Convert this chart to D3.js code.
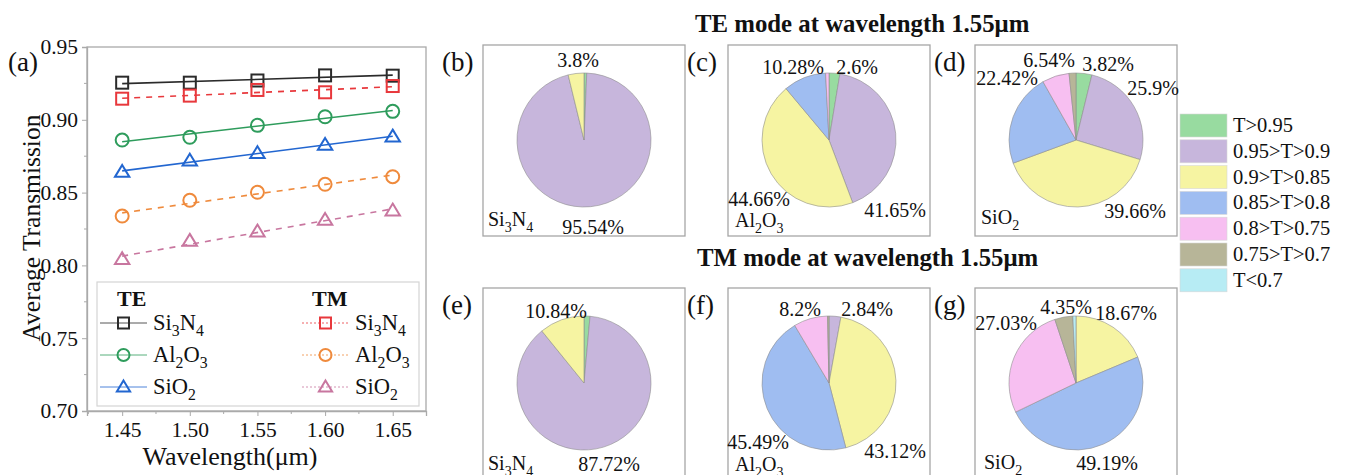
<!DOCTYPE html>
<html>
<head>
<meta charset="utf-8">
<script src="https://cdn.jsdelivr.net/npm/d3@7"></script>
<style>
  body { margin: 0; background: #fff; }
  text { font-family: "Liberation Serif", "Times New Roman", Tinos, "DejaVu Serif", serif; fill: #111; }
</style>
</head>
<body>
<svg id="chart" width="1347" height="475"></svg>
<script>
// ---- line chart data (a) ----
const wavelengths = [1.45, 1.50, 1.55, 1.60, 1.65];
const teSi3N4 = [0.9255, 0.9255, 0.927, 0.9305, 0.9303];
const teAl2O3 = [0.8861, 0.888, 0.8962, 0.9021, 0.9058];
const teSiO2 = [0.8641, 0.8719, 0.877, 0.8827, 0.8884];
const tmSi3N4 = [0.9145, 0.9166, 0.9205, 0.9189, 0.9232];
const tmAl2O3 = [0.8339, 0.8447, 0.8502, 0.8557, 0.8609];
const tmSiO2 = [0.8042, 0.8168, 0.8232, 0.8312, 0.8376];
const yTicks = [0.70, 0.75, 0.80, 0.85, 0.90, 0.95];
const xTicks = [1.45, 1.50, 1.55, 1.60, 1.65];
const materials = ["Si_3N_4", "Al_2O_3", "SiO_2"];

// ---- pie data (b)-(g), percent per transmission range, clockwise from top ----
const ranges = ["T>0.95", "0.95>T>0.9", "0.9>T>0.85", "0.85>T>0.8", "0.8>T>0.75", "0.75>T>0.7", "T<0.7"];
const pieTeSi3N4 = [0.66, 95.54, 3.8, 0, 0, 0, 0];
const pieTeAl2O3 = [2.6, 41.65, 44.66, 10.28, 0.81, 0, 0];
const pieTeSiO2 = [3.82, 25.9, 39.66, 22.42, 6.54, 1.66, 0];
const pieTmSi3N4 = [1.44, 87.72, 10.84, 0, 0, 0, 0];
const pieTmAl2O3 = [0, 2.84, 43.12, 45.49, 8.2, 0.35, 0];
const pieTmSiO2 = [0, 0, 18.67, 49.19, 27.03, 4.35, 0.76];

const svg = d3.select("#chart");

function subText(el, str, fs) {
  let shifted = false;
  str.split(/(_\d)/).filter(s => s).forEach(p => {
    const sub = p[0] === "_";
    const t = el.append("tspan").text(sub ? p.slice(1) : p);
    if (sub) { t.attr("font-size", fs * 0.7).attr("dy", fs * 0.28); shifted = true; }
    else if (shifted) { t.attr("dy", -fs * 0.28); shifted = false; }
  });
}

// ================= (a) line chart =================
const plot = { left: 87, right: 426, top: 47, bottom: 411 };
const x = d3.scaleLinear().domain([1.424, 1.6746]).range([plot.left, plot.right]);
const y = d3.scaleLinear().domain([0.70, 0.95]).range([plot.bottom, plot.top]);

const series = [
  { mode: "TE", name: materials[0], values: teSi3N4, color: "#2b2b2b", shape: "square", dash: null },
  { mode: "TE", name: materials[1], values: teAl2O3, color: "#2e9c5c", shape: "circle", dash: null },
  { mode: "TE", name: materials[2], values: teSiO2, color: "#2266d0", shape: "triangle", dash: null },
  { mode: "TM", name: materials[0], values: tmSi3N4, color: "#e8383c", shape: "square", dash: "6,6" },
  { mode: "TM", name: materials[1], values: tmAl2O3, color: "#ef8a3c", shape: "circle", dash: "6,6" },
  { mode: "TM", name: materials[2], values: tmSiO2, color: "#c8769f", shape: "triangle", dash: "6,6" }
];

// frame
svg.append("rect").attr("x", plot.left).attr("y", plot.top)
  .attr("width", plot.right - plot.left).attr("height", plot.bottom - plot.top)
  .attr("fill", "none").attr("stroke", "#aaa").attr("stroke-width", 1.3);

const yAxis = d3.axisLeft(y).tickValues(yTicks).tickFormat(d3.format(".2f")).tickSize(5).tickPadding(4);
const gy = svg.append("g").attr("transform", `translate(${plot.left},0)`).call(yAxis);
const xAxis = d3.axisBottom(x).tickValues(xTicks).tickFormat(d3.format(".2f")).tickSize(5).tickPadding(6);
const gx = svg.append("g").attr("transform", `translate(0,${plot.bottom})`).call(xAxis);
[gx, gy].forEach(g => {
  g.attr("font-family", null);
  g.select(".domain").attr("stroke", "#aaa").attr("stroke-width", 1.3);
  g.selectAll(".tick line").attr("stroke", "#aaa");
  g.selectAll(".tick text").attr("font-size", 21.5).attr("fill", "#111");
});
// minor ticks
svg.append("g").selectAll("line").data(d3.range(0.725, 0.95, 0.05)).join("line")
  .attr("x1", plot.left - 3).attr("x2", plot.left).attr("y1", d => y(d)).attr("y2", d => y(d))
  .attr("stroke", "#aaa");
svg.append("g").selectAll("line").data(d3.range(1.425, 1.675, 0.05)).join("line")
  .attr("y1", plot.bottom).attr("y2", plot.bottom + 3).attr("x1", d => x(d)).attr("x2", d => x(d))
  .attr("stroke", "#aaa");

function marker(g, shape, cx, cy, color, s) {
  if (shape === "square") {
    g.append("rect").attr("x", cx - s / 2).attr("y", cy - s / 2).attr("width", s).attr("height", s)
      .attr("fill", "none").attr("stroke", color).attr("stroke-width", 2);
  } else if (shape === "circle") {
    g.append("circle").attr("cx", cx).attr("cy", cy).attr("r", s / 2 + 0.5)
      .attr("fill", "none").attr("stroke", color).attr("stroke-width", 2);
  } else {
    const h = s * 0.95;
    g.append("path").attr("d", `M${cx},${cy - h * 0.62}L${cx + s * 0.6},${cy + h * 0.42}L${cx - s * 0.6},${cy + h * 0.42}Z`)
      .attr("fill", "none").attr("stroke", color).attr("stroke-width", 2).attr("stroke-linejoin", "miter");
  }
}

// linear fit lines + markers
series.forEach(s => {
  const mx = d3.mean(wavelengths), my = d3.mean(s.values);
  const slope = d3.sum(wavelengths, (w, i) => (w - mx) * (s.values[i] - my)) / d3.sum(wavelengths, w => (w - mx) ** 2);
  const fit = w => my + slope * (w - mx);
  const x0 = wavelengths[0], x1 = wavelengths[wavelengths.length - 1];
  svg.append("line").attr("x1", x(x0)).attr("y1", y(fit(x0))).attr("x2", x(x1)).attr("y2", y(fit(x1)))
    .attr("stroke", s.color).attr("stroke-width", 1.6).attr("stroke-dasharray", s.dash);
  const g = svg.append("g");
  s.values.forEach((v, i) => marker(g, s.shape, x(wavelengths[i]), y(v), s.color, 12));
});

// axis titles
svg.append("text").attr("x", 230).attr("y", 465).attr("text-anchor", "middle").attr("font-size", 26).text("Wavelength(μm)");
svg.append("text").attr("transform", "translate(40,228) rotate(-90)").attr("text-anchor", "middle")
  .attr("font-size", 25.5).text("Average Transmission");
svg.append("text").attr("x", 8).attr("y", 71).attr("font-size", 27).text("(a)");

// legend
const lg = svg.append("g");
lg.append("rect").attr("x", 97).attr("y", 282).attr("width", 322).attr("height", 124)
  .attr("fill", "#fff").attr("stroke", "#d4d4d4").attr("stroke-width", 1.2);
[["TE", 117], ["TM", 312]].forEach(([m, tx]) => {
  lg.append("text").attr("x", tx).attr("y", 306).attr("font-size", 22).attr("font-weight", "bold").text(m);
});
series.forEach((s, i) => {
  const col = s.mode === "TE" ? 0 : 1;
  const row = i % 3;
  const ly = 323 + row * 32;
  const lx0 = col === 0 ? 100 : 302;
  lg.append("line").attr("x1", lx0).attr("x2", lx0 + 47).attr("y1", ly).attr("y2", ly)
    .attr("stroke", s.color).attr("stroke-width", 0.8).attr("stroke-dasharray", s.dash ? "2,2" : null);
  marker(lg, s.shape, lx0 + 23.5, ly, s.color, 11);
  const t = lg.append("text").attr("x", lx0 + 53).attr("y", ly + 7).attr("font-size", 22.5);
  subText(t, s.name, 22.5);
});

// ================= pies =================
const colors = ["#98dba0", "#c7b6dc", "#f6f4a2", "#9fbdf1", "#f7bff1", "#b7b598", "#b7ecf4"];
const boxW = 202, boxH = 191;
const panels = [
  { tag: "(b)", bx: 483, by: 45, values: pieTeSi3N4, material: materials[0], matPos: [-96, 86],
    labels: [[2, -6, -80], [1, 9, 87]] },
  { tag: "(c)", bx: 728, by: 45, values: pieTeAl2O3, material: materials[1], matPos: [-94, 87],
    labels: [[3, -36, -73], [0, 28, -73], [2, -70, 59], [1, 66, 70]] },
  { tag: "(d)", bx: 975, by: 45, values: pieTeSiO2, material: materials[2], matPos: [-95, 84],
    labels: [[4, -27, -80], [0, 32, -76], [3, -69, -62], [1, 77, -52], [2, 59, 71]] },
  { tag: "(e)", bx: 483, by: 288, values: pieTmSi3N4, material: materials[0], matPos: [-96, 87],
    labels: [[2, -28, -72], [1, 25, 81]] },
  { tag: "(f)", bx: 728, by: 288, values: pieTmAl2O3, material: materials[1], matPos: [-94, 88],
    labels: [[4, -29, -74], [1, 38, -74], [3, -71, 59], [2, 66, 68]] },
  { tag: "(g)", bx: 975, by: 288, values: pieTmSiO2, material: materials[2], matPos: [-92, 86],
    labels: [[5, -10, -76], [2, 50, -70], [4, -70, -60], [3, 31, 80]] }
];

const pie = d3.pie().sort(null);
const arc = d3.arc().innerRadius(0).outerRadius(67);

panels.forEach(p => {
  svg.append("rect").attr("x", p.bx).attr("y", p.by).attr("width", boxW).attr("height", boxH)
    .attr("fill", "#fff").attr("stroke", "#a6a6a6").attr("stroke-width", 1.3);
  svg.append("text").attr("x", p.bx - 41).attr("y", p.by + 26).attr("font-size", 27).text(p.tag);
  const cx = p.bx + boxW / 2, cy = p.by + 95;
  const g = svg.append("g").attr("transform", `translate(${cx},${cy})`);
  g.selectAll("path").data(pie(p.values).filter(d => d.value > 0)).join("path")
    .attr("d", arc).attr("fill", d => colors[d.index])
    .attr("stroke", "#8f8f8f").attr("stroke-width", 0.6);
  p.labels.forEach(([i, dx, dy]) => {
    g.append("text").attr("x", dx).attr("y", dy).attr("dy", "0.35em").attr("text-anchor", "middle")
      .attr("font-size", 20).text(p.values[i] + "%");
  });
  const mt = g.append("text").attr("x", p.matPos[0]).attr("y", p.matPos[1]).attr("font-size", 20);
  subText(mt, p.material, 20);
});

// titles
svg.append("text").attr("x", 695).attr("y", 32).attr("font-size", 24.8).attr("font-weight", "bold")
  .text("TE mode at wavelength 1.55μm");
svg.append("text").attr("x", 697).attr("y", 266).attr("font-size", 24.8).attr("font-weight", "bold")
  .text("TM mode at wavelength 1.55μm");

// range legend
const rl = svg.append("g");
ranges.forEach((r, i) => {
  const ry = 114 + i * 25.8;
  rl.append("rect").attr("x", 1180).attr("y", ry).attr("width", 47).attr("height", 23)
    .attr("fill", colors[i]).attr("stroke", "#d8d8d8").attr("stroke-width", 0.6);
  rl.append("text").attr("x", 1233).attr("y", ry + 18).attr("font-size", 20.5).text(r);
});
</script>
</body>
</html>
